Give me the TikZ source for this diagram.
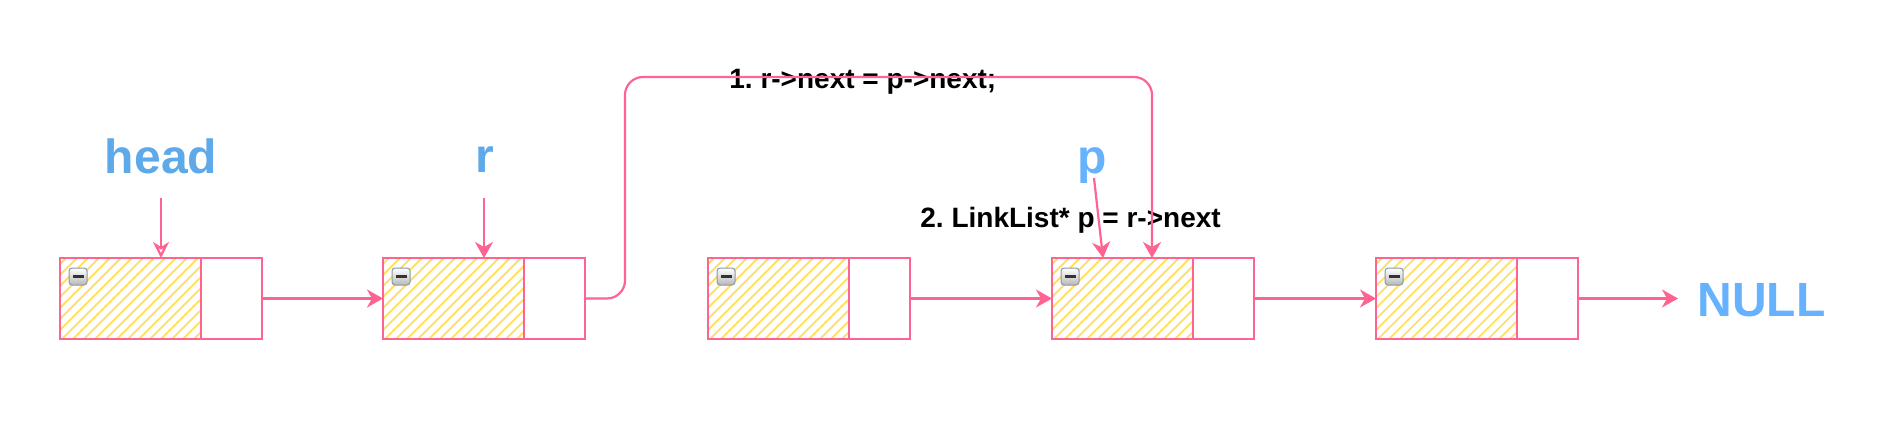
\documentclass[tikz,border=0pt]{standalone}
\usepackage{fontspec}
\setmainfont{Liberation Sans}
\usetikzlibrary{arrows.meta,calc}
\definecolor{pinkline}{HTML}{FF6392}
\definecolor{hatchy}{HTML}{FFE066}
\definecolor{blueA}{HTML}{5DA9E9}
\definecolor{blueB}{HTML}{66B2FF}
\definecolor{iconedge}{HTML}{8A98A6}
\tikzset{
  databox/.style={draw=pinkline,line width=1.2pt,minimum width=70.5pt,minimum height=40.5pt,inner sep=0pt,outer sep=0pt,anchor=north west},
  ptrbox/.style={draw=pinkline,line width=1.2pt,minimum width=30.5pt,minimum height=40.5pt,inner sep=0pt,outer sep=0pt,anchor=north west},
  hatchline/.style={draw=hatchy,line width=0.9pt},
  link/.style={draw=pinkline,line width=1.1pt,-{Stealth[length=8pt,width=9pt,inset=2.5pt]}},
  openlink/.style={draw=pinkline,line width=1.1pt,-{Stealth[open,length=8pt,width=8pt,inset=2.5pt]}},
  biglabel/.style={font=\fontsize{24pt}{28pt}\selectfont\bfseries,inner sep=0pt,anchor=base},
  codelabel/.style={font=\fontsize{14pt}{17pt}\selectfont\bfseries\frenchspacing,text=black,inner sep=0pt,anchor=base west},
}
\newcommand{\ListNode}[2]{%
  \begin{scope}
    \clip (#2+1,259) rectangle (#2+140,338);
    \foreach \i in {-88,-77,...,145}{
      \draw[hatchline] (#2+\i,341) -- ++(84,-84);
    }
  \end{scope}
  \node[databox] (d#1) at (#2,258) {};
  \node[ptrbox] (n#1) at (#2+141,258) {};
  \shade[top color=white,bottom color=gray!55,draw=iconedge,line width=0.5pt,rounded corners=1.5pt]
    (#2+9,268) rectangle (#2+27,285);
  \draw[line width=1.3pt,black!80] (#2+12.5,276.5) -- (#2+23.5,276.5);
}
\begin{document}
\begin{tikzpicture}[x=0.5pt,y=-0.5pt]
\useasboundingbox (0,0) rectangle (1878,444);
\ListNode{1}{60}
\ListNode{2}{383}
\ListNode{3}{708}
\ListNode{4}{1052}
\ListNode{5}{1376}
% labels
\node[biglabel,text=blueA] (head) at (161,173) {head};
\node[biglabel,text=blueA] (r) at (485,172) {r};
\node[biglabel,text=blueB] (p) at (1092,173) {p};
\node[biglabel,text=blueB,anchor=base west] (null) at (1697,316) {NULL};
\node[codelabel] (c1) at (729,89) {1. r->next = p->next;};
\node[codelabel] (c2) at (920,227) {2. LinkList* p = r->next};
% pointer coordinates
\coordinate (hs) at (161,198);
\coordinate (he) at (161,258);
\coordinate (rs) at (484,198);
\coordinate (re) at (484,258);
\coordinate (ps) at (1094,178);
\coordinate (pe) at (1103,258);
\coordinate (qe) at (1152,258);
\coordinate (ne) at (1678,299);
\draw[openlink] (hs) -- (he);
\draw[link] (rs) -- (re);
\draw[link] (ps) -- (pe);
% list links
\draw[link] (n1.east) -- (d2.west);
\draw[link] (n3.east) -- (d4.west);
\draw[link] (n4.east) -- (d5.west);
\draw[link] (n5.east) -- (n5.east -| ne);
% r->next = p->next path
\draw[link,rounded corners=9pt] (n2.east) -- (n2.east -| 625,0) -- (625,77) -- (1152,77) -- (qe);
\end{tikzpicture}
\end{document}
